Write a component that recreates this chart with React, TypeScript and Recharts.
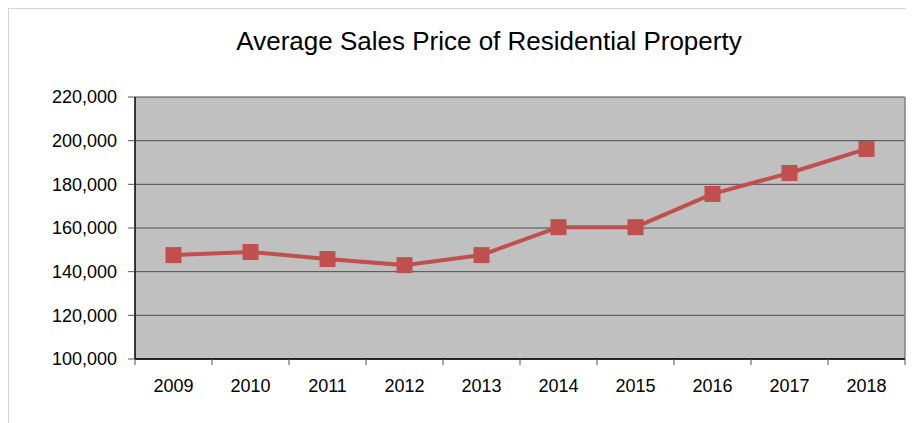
import React from 'react';
import {
  LineChart,
  Line,
  XAxis,
  YAxis,
  CartesianGrid,
  ReferenceLine,
} from 'recharts';

const years = ['2009', '2010', '2011', '2012', '2013', '2014', '2015', '2016', '2017', '2018'];
const prices = [147600, 149000, 145800, 143000, 147600, 160400, 160400, 175600, 185200, 196200];
const yTicks = [100000, 120000, 140000, 160000, 180000, 200000, 220000];

const data = years.map((year, i) => ({ x: i + 0.5, year, price: prices[i] }));

const CHART_W = 905;
const CHART_H = 414;
const Y_AXIS_W = 126;
const RIGHT = 9;
const HALF_BAND = (CHART_W - Y_AXIS_W - RIGHT) / years.length / 2;
const FONT = '"Liberation Sans", Arial, sans-serif';

const YearTick = ({ x, y, payload, index }: any) => {
  const label = years[Math.round(payload.value - 0.5)];
  return (
    <g>
      <line x1={x - HALF_BAND} x2={x - HALF_BAND} y1={y} y2={y + 6} stroke="#555" />
      {index === years.length - 1 && (
        <line x1={x + HALF_BAND} x2={x + HALF_BAND} y1={y} y2={y + 6} stroke="#555" />
      )}
      <text x={x} y={y + 33} textAnchor="middle" fontSize={18} fill="#000" fontFamily={FONT}>
        {label}
      </text>
    </g>
  );
};

const SquareDot = ({ cx, cy }: any) => (
  <rect x={cx - 8} y={cy - 8} width={16} height={16} fill="#c0504d" />
);

export default function App() {
  return (
    <div
      style={{
        position: 'relative',
        width: 905,
        height: 414,
        borderLeft: '1px solid #d4d4d4',
        borderTop: '1px solid #d4d4d4',
        fontFamily: FONT,
      }}
    >
      <div
        style={{
          position: 'absolute',
          left: 0,
          width: 960,
          top: 17,
          textAlign: 'center',
          fontSize: 26,
          color: '#000',
        }}
      >
        Average Sales Price of Residential Property
      </div>
      <LineChart
        width={CHART_W}
        height={CHART_H}
        data={data}
        margin={{ top: 88, right: RIGHT, left: 0, bottom: 34 }}
      >
        <CartesianGrid
          vertical={false}
          fill="#c0c0c0"
          fillOpacity={1}
          stroke="#4d4d4d"
          horizontalValues={yTicks}
        />
        <ReferenceLine x={10} stroke="#808080" strokeWidth={1.5} />
        <XAxis
          dataKey="x"
          type="number"
          domain={[0, 10]}
          ticks={data.map((d) => d.x)}
          interval={0}
          tick={<YearTick />}
          tickLine={false}
          tickSize={0}
          tickMargin={0}
          height={30}
          axisLine={{ stroke: '#000', strokeWidth: 1.5 }}
        />
        <YAxis
          domain={[100000, 220000]}
          ticks={yTicks}
          interval={0}
          width={Y_AXIS_W}
          tickSize={7}
          tickMargin={11}
          tickFormatter={(v: number) => v.toLocaleString('en-US')}
          tick={{ fill: '#000', fontSize: 18, fontFamily: FONT }}
          tickLine={{ stroke: '#555' }}
          axisLine={{ stroke: '#000', strokeWidth: 1.5 }}
        />
        <Line
          dataKey="price"
          stroke="#c0504d"
          strokeWidth={4}
          dot={<SquareDot />}
          activeDot={false}
          isAnimationActive={false}
        />
      </LineChart>
    </div>
  );
}
